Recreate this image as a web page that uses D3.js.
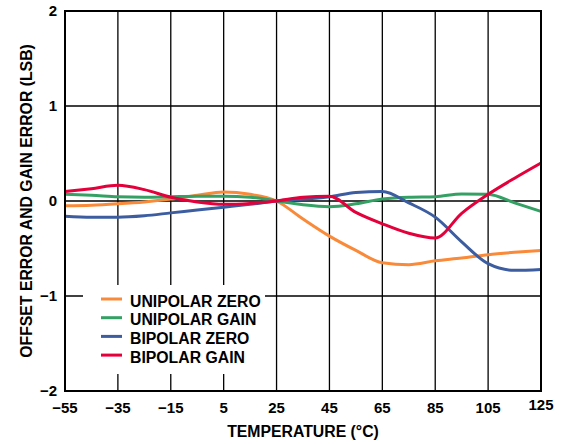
<!DOCTYPE html>
<html>
<head>
<meta charset="utf-8">
<script src="https://cdn.jsdelivr.net/npm/d3@7"></script>
<style>
  body { margin: 0; background: #fff; }
  text { font-family: "Liberation Sans", Arial, sans-serif; font-weight: bold; fill: #000; }
</style>
</head>
<body>
<div id="chart"></div>
<script>
// temperatures (°C)
var temps = [-55, -45, -35, -25, -15, -5, 5, 15, 25, 35, 45, 55, 65, 75, 85, 95, 105, 115, 125];

var unipolarZero = [-0.05, -0.045, -0.03, -0.01, 0.02, 0.06, 0.095, 0.07, 0.0, -0.19, -0.37, -0.52, -0.65, -0.67, -0.63, -0.6, -0.565, -0.54, -0.52];
var unipolarGain = [0.07, 0.06, 0.045, 0.04, 0.045, 0.05, 0.05, 0.04, 0.0, -0.04, -0.06, -0.03, 0.02, 0.04, 0.045, 0.075, 0.07, -0.02, -0.11];
var bipolarZero  = [-0.16, -0.17, -0.17, -0.155, -0.125, -0.095, -0.065, -0.035, 0.0, 0.02, 0.045, 0.09, 0.1, -0.02, -0.17, -0.43, -0.66, -0.73, -0.72];
var bipolarGain  = [0.1, 0.13, 0.165, 0.12, 0.04, -0.01, -0.035, -0.025, 0.0, 0.04, 0.05, -0.12, -0.24, -0.34, -0.39, -0.13, 0.07, 0.24, 0.40];

var seriesNames = ["UNIPOLAR ZERO", "UNIPOLAR GAIN", "BIPOLAR ZERO", "BIPOLAR GAIN"];
var seriesColors = ["#f98a3a", "#34a064", "#3c5da0", "#e4003a"];
var seriesValues = [unipolarZero, unipolarGain, bipolarZero, bipolarGain];

var xTicks = [-55, -35, -15, 5, 25, 45, 65, 85, 105, 125];
var yTicks = [-2, -1, 0, 1, 2];

var width = 564, height = 444;
var margin = {top: 11, right: 23, bottom: 53, left: 65};

var svg = d3.select("#chart").append("svg")
  .attr("width", width)
  .attr("height", height);

var x = d3.scaleLinear().domain([-55, 125]).range([margin.left, width - margin.right]);
var y = d3.scaleLinear().domain([-2, 2]).range([height - margin.bottom, margin.top]);

// grid
svg.append("g").selectAll("line.v")
  .data(xTicks.slice(1, -1))
  .enter().append("line")
  .attr("x1", d => x(d)).attr("x2", d => x(d))
  .attr("y1", y(2)).attr("y2", y(-2))
  .attr("stroke", "#000").attr("stroke-width", 1.3);

svg.append("g").selectAll("line.h")
  .data(yTicks.slice(1, -1))
  .enter().append("line")
  .attr("x1", x(-55)).attr("x2", x(125))
  .attr("y1", d => y(d)).attr("y2", d => y(d))
  .attr("stroke", "#000").attr("stroke-width", 1.3);

// curves
var line = d3.line()
  .x((d, i) => x(temps[i]))
  .y(d => y(d))
  .curve(d3.curveMonotoneX);

svg.append("g").selectAll("path")
  .data(seriesValues)
  .enter().append("path")
  .attr("d", d => line(d))
  .attr("fill", "none")
  .attr("stroke", (d, i) => seriesColors[i])
  .attr("stroke-width", 3)
  .attr("stroke-linejoin", "round");

// legend box (white, covers grid), stops short of the 25 °C line
svg.append("rect")
  .attr("x", 83).attr("y", 285)
  .attr("width", 182).attr("height", 89)
  .attr("fill", "#fff");

var legend = svg.append("g").selectAll("g")
  .data(seriesNames)
  .enter().append("g")
  .attr("transform", (d, i) => "translate(101," + (299 + i * 18.7) + ")");

legend.append("line")
  .attr("x1", 0).attr("x2", 21)
  .attr("stroke", (d, i) => seriesColors[i])
  .attr("stroke-width", 3);

legend.append("text")
  .attr("x", 29).attr("y", 7.7)
  .style("font-size", "15.8px")
  .text(d => d);

// frame
svg.append("rect")
  .attr("x", x(-55)).attr("y", y(2))
  .attr("width", x(125) - x(-55)).attr("height", y(-2) - y(2))
  .attr("fill", "none").attr("stroke", "#000").attr("stroke-width", 2);

// tick labels
var fmt = d => (d < 0 ? "\u2212" + Math.abs(d) : "" + d);

svg.append("g").selectAll("text")
  .data(yTicks)
  .enter().append("text")
  .attr("x", margin.left - 8)
  .attr("y", d => y(d))
  .attr("dy", "0.36em")
  .attr("text-anchor", "end")
  .style("font-size", "15px")
  .text(fmt);

svg.append("g").selectAll("text")
  .data(xTicks)
  .enter().append("text")
  .attr("x", d => x(d))
  .attr("y", d => d === 125 ? 410 : 413)
  .attr("text-anchor", "middle")
  .style("font-size", "15px")
  .text(fmt);

// axis titles
svg.append("text")
  .attr("x", (x(-55) + x(125)) / 2)
  .attr("y", 437)
  .attr("text-anchor", "middle")
  .style("font-size", "15.8px")
  .text("TEMPERATURE (\u00b0C)");

svg.append("text")
  .attr("transform", "translate(32," + y(0) + ") rotate(-90)")
  .attr("text-anchor", "middle")
  .style("font-size", "15.8px")
  .text("OFFSET ERROR AND GAIN ERROR (LSB)");
</script>
</body>
</html>
